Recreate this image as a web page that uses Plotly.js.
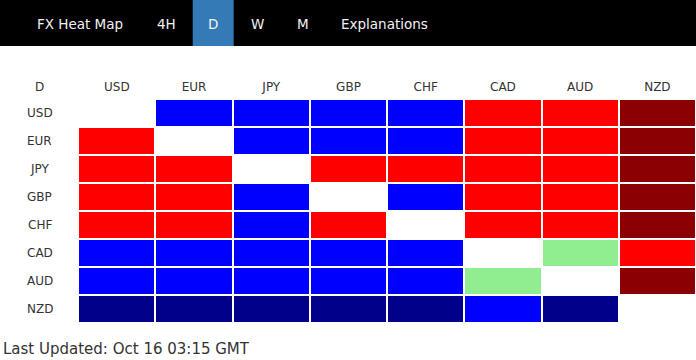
<!DOCTYPE html>
<html>
<head>
<meta charset="utf-8">
<script src="https://cdn.plot.ly/plotly-3.0.1.min.js"></script>
<style>html,body{margin:0;padding:0;background:#fff;}#chart{width:696px;height:360px;}</style>
</head>
<body>
<div id="chart"></div>
<script>
// Column / row currencies
const currencies = ["USD","EUR","JPY","GBP","CHF","CAD","AUD","NZD"];
const cornerLabel = "D";
// Strength levels: 2 = dark blue, 1 = blue, 0 = light green, -1 = red, -2 = dark red, null = diagonal
const rowUSD = [null, 1, 1, 1, 1, -1, -1, -2];
const rowEUR = [-1, null, 1, 1, 1, -1, -1, -2];
const rowJPY = [-1, -1, null, -1, -1, -1, -1, -2];
const rowGBP = [-1, -1, 1, null, 1, -1, -1, -2];
const rowCHF = [-1, -1, 1, -1, null, -1, -1, -2];
const rowCAD = [1, 1, 1, 1, 1, null, 0, -1];
const rowAUD = [1, 1, 1, 1, 1, 0, null, -2];
const rowNZD = [2, 2, 2, 2, 2, 1, 2, null];
const menuItems = ["FX Heat Map","4H","D","W","M","Explanations"];
const activeMenu = "D";
const lastUpdated = "Last Updated: Oct 16 03:15 GMT";

const rows = [rowUSD,rowEUR,rowJPY,rowGBP,rowCHF,rowCAD,rowAUD,rowNZD];
const xCats = [cornerLabel].concat(currencies);
const z = rows.map(r => [null].concat(r));

const W = 696, TOP = 99, PH = 224;
const pyToPaper = py => 1 + (TOP - py) / PH;

const font = "Verdana, 'DejaVu Sans', sans-serif";
const trace = {
  type: "heatmap",
  x: xCats, y: currencies, z: z,
  zmin: -2, zmax: 2,
  colorscale: [[0,'#8B0000'],[0.125,'#8B0000'],[0.125,'#FF0000'],[0.375,'#FF0000'],
               [0.375,'#90EE90'],[0.625,'#90EE90'],[0.625,'#0000FF'],[0.875,'#0000FF'],
               [0.875,'#00008B'],[1,'#00008B']],
  showscale: false, xgap: 2, ygap: 2, hoverinfo: "skip"
};

const menuX = [79.5, 165.5, 212, 257, 302, 384];
const annotations = [];
menuItems.forEach((m,i) => annotations.push({
  text: m, xref: "paper", yref: "paper", x: menuX[i]/W, y: pyToPaper(24),
  xanchor: "center", yanchor: "middle", showarrow: false,
  font: {family: font, size: 13.5, color: "#f2f2f2"}
}));
currencies.forEach(c => annotations.push({
  text: c, xref: "x", yref: "y", x: cornerLabel, y: c, showarrow: false,
  xanchor: "center", yanchor: "middle", font: {family: font, size: 12, color: "#333"}
}));
annotations.push({
  text: lastUpdated, xref: "paper", yref: "paper", x: 0, y: pyToPaper(349),
  xanchor: "left", yanchor: "middle", showarrow: false,
  font: {family: font, size: 15, color: "#333"}
});

const activeIdx = menuItems.indexOf(activeMenu);
const layout = {
  width: 696, height: 360,
  margin: {l: 1, r: 0, t: TOP, b: 360 - TOP - PH},
  paper_bgcolor: "#fff", plot_bgcolor: "#fff",
  xaxis: {side: "top", type: "category", showgrid: false, zeroline: false, ticks: "",
          showline: false, fixedrange: true, ticklabelstandoff: 5,
          tickfont: {family: font, size: 12, color: "#333"}},
  yaxis: {type: "category", autorange: "reversed", showgrid: false, zeroline: false,
          showticklabels: false, ticks: "", fixedrange: true},
  shapes: [
    {type: "rect", xref: "paper", yref: "paper", x0: -0.01, x1: 1.01,
     y0: pyToPaper(46), y1: pyToPaper(-2), fillcolor: "#000", line: {width: 0}, layer: "above"},
    {type: "rect", xref: "paper", yref: "paper", x0: 192/W, x1: 233/W,
     y0: pyToPaper(46), y1: pyToPaper(-2), fillcolor: "#337AB7", line: {width: 0}, layer: "above"}
  ],
  annotations: annotations,
  showlegend: false
};

Plotly.newPlot("chart", [trace], layout, {displayModeBar: false, staticPlot: true});
</script>
</body>
</html>
